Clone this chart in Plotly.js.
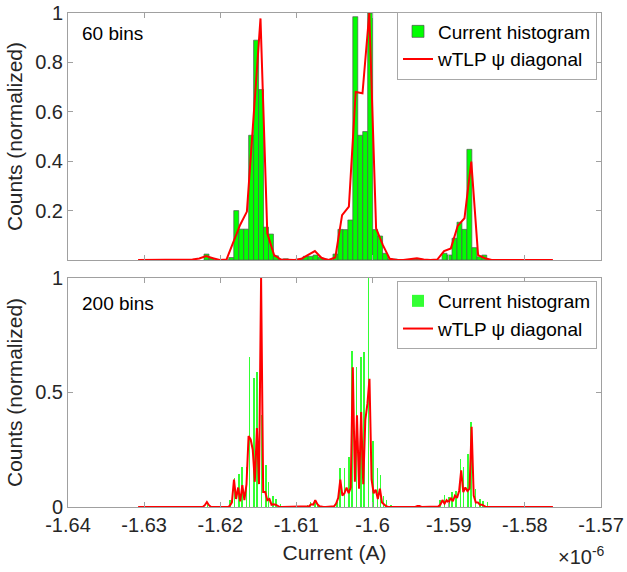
<!DOCTYPE html>
<html>
<head>
<meta charset="utf-8">
<script src="https://cdn.plot.ly/plotly-3.0.1.min.js"></script>
<style>html,body{margin:0;padding:0;background:#fff;}#chart{width:627px;height:572px;}</style>
</head>
<body>
<div id="chart"></div>
<script>
// ---- data (current in units of 1e-6 A) ----
const xTickVals = [-1.64, -1.63, -1.62, -1.61, -1.60, -1.59, -1.58, -1.57];
const xTickText = ["-1.64", "-1.63", "-1.62", "-1.61", "-1.6", "-1.59", "-1.58", "-1.57"];

// histogram bin layout shared by both panels
const histStart = -1.622138;     // left edge of first bin
const histSpan = 0.039085;       // total width covered by the bins

// 60-bin histogram (normalized counts)
const counts60 = [
  0.024, 0.008, 0, 0, 0, 0.01, 0.20, 0.125, 0.125, 0.505,
  0.89, 0.69, 0.133, 0.105, 0.017, 0.003, 0.005, 0, 0, 0.003,
  0.015, 0.015, 0.02, 0.01, 0.003, 0, 0.024, 0.124, 0.123, 0.162,
  0.985, 0.505, 0.52, 1.0, 0.123, 0.097, 0.027, 0.005, 0.004, 0,
  0, 0, 0.003, 0.003, 0, 0, 0, 0, 0.027, 0.02,
  0.088, 0.153, 0.124, 0.448, 0.05, 0.013, 0.02, 0, 0, 0
];

// wTLP psi diagonal, top panel grid
const wtlpTopStart = -1.630793;
const wtlpTopStep = 0.000893;
const wtlpTop = [
  0, 0, 0, 0, 0, 0, 0, 0, 0.002, 0.006,
  0.016, 0.007, 0, 0.002, 0.07, 0.142, 0.196, 0.6, 0.978, 0.108,
  0.02, 0.002, 0, 0, 0.005, 0.02, 0.036, 0.008, 0, 0.01,
  0.182, 0.216, 0.68, 0.675, 1.0, 0.128, 0.06, 0.005, 0, 0,
  0.002, 0.007, 0.002, 0, 0.002, 0.036, 0.047, 0.138, 0.169, 0.398,
  0.02, 0.007, 0, 0, 0, 0, 0, 0, 0, 0,
  0, 0
];

// 200-bin histogram: non-empty bins (bin index, normalized count)
const bins200Idx = [2, 5, 15, 17, 20, 23, 25, 28, 30, 33, 35, 38, 41, 43, 46, 48, 51, 54,
  69, 71, 74, 76,
  89, 91, 94, 97, 99, 102, 105, 107, 110, 113, 116, 118, 120, 122, 125,
  144,
  158, 161, 164, 166, 169, 172, 174, 177, 179, 182, 185, 187, 190];
const bins200Val = [0.022, 0.006, 0.006, 0.03, 0.126, 0.144, 0.176, 0.176, 0.656, 0.562, 0.59, 0.4, 0.183, 0.11, 0.05, 0.035, 0.012, 0.006,
  0.008, 0.02, 0.03, 0.01,
  0.02, 0.17, 0.17, 0.22, 0.68, 0.61, 0.655, 0.678, 1.0, 0.29, 0.17, 0.14, 0.05, 0.03, 0.01,
  0.005,
  0.03, 0.052, 0.045, 0.067, 0.071, 0.208, 0.173, 0.23, 0.373, 0.077, 0.034, 0.025, 0.02];

// wTLP psi diagonal, bottom panel grid (200 points)
const wtlpBotStart = -1.630793;
const wtlpBotStep = 0.00027376;
const wtlpBot = [
  0,0,0,0,0,0,0,0,0,0, 0,0,0,0,0,0,0,0,0,0,
  0,0,0,0,0,0,0,0,0,0, 0,0,0.008,0.022,0.008,0,0,0,0,0,
  0,0,0,0,0.005,0.02,0.12,0.035,0.085,0.025, 0.095,0.03,0.1,0.31,0.295,0.25,0.11,0.345,0.1,1.0,
  0.065,0.065,0.03,0.035,0.01,0.012,0.01,0.003,0,0, 0,0,0,0,0,0,0,0,0,0,
  0,0,0.003,0.012,0.01,0.03,0.012,0.003,0,0, 0,0,0,0,0.003,0.015,0.04,0.12,0.05,0.06,
  0.085,0.06,0.085,0.61,0.11,0.4,0.08,0.415,0.1,0.38, 0.45,0.56,0.12,0.06,0.075,0.035,0.08,0.02,0.01,0.003,
  0,0,0,0,0,0,0,0,0,0, 0,0,0,0,0.004,0.004,0,0,0,0,
  0,0,0,0,0.002,0.01,0.03,0.015,0.03,0.02, 0.04,0.025,0.05,0.04,0.07,0.16,0.065,0.085,0.07,0.08,
  0.35,0.05,0.02,0.02,0.01,0.01,0.005,0,0,0, 0,0,0,0,0,0,0,0,0,0,
  0,0,0,0,0,0,0,0,0,0, 0,0,0,0,0,0,0,0,0,0
];

const legendNames = ["Current histogram", "wTLP \u03c8 diagonal"];

// ---- build traces ----
const w60 = histSpan / counts60.length;
const x60 = counts60.map((_, i) => histStart + (i + 0.5) * w60);
const w200 = histSpan / 200;
const x200 = bins200Idx.map(k => histStart + (k + 0.5) * w200);
const xTop = wtlpTop.map((_, i) => wtlpTopStart + i * wtlpTopStep);
const xBot = wtlpBot.map((_, i) => wtlpBotStart + i * wtlpBotStep);

const GREEN = "#00ff00";
const RED = "#ff0000";

const traces = [
  {type: "bar", x: x60, y: counts60, width: w60, xaxis: "x", yaxis: "y",
   marker: {color: GREEN, line: {color: "#555555", width: 0.7}},
   name: legendNames[0], legend: "legend"},
  {type: "scatter", mode: "lines", x: xTop, y: wtlpTop, xaxis: "x", yaxis: "y",
   line: {color: RED, width: 2}, name: legendNames[1], legend: "legend"},
  {type: "bar", x: x200, y: bins200Val, width: w200, xaxis: "x2", yaxis: "y2",
   marker: {color: "#33ff33", line: {width: 0}},
   name: legendNames[0], legend: "legend2"},
  {type: "scatter", mode: "lines", x: xBot, y: wtlpBot, xaxis: "x2", yaxis: "y2",
   line: {color: RED, width: 2}, name: legendNames[1], legend: "legend2"}
];

const FONT = "Liberation Sans, Arial, Helvetica, sans-serif";
const TXT = "#262626";
const axisCommon = {
  showline: true, linecolor: "#a0a0a0", linewidth: 1, mirror: "ticks",
  ticks: "inside", ticklen: 5, tickcolor: "#a0a0a0", tickwidth: 1,
  showgrid: false, zeroline: false, fixedrange: true,
  tickfont: {family: FONT, size: 20, color: TXT}
};
const legendCommon = {
  xanchor: "right", yanchor: "top", bgcolor: "#ffffff",
  bordercolor: "#a8a8a8", borderwidth: 1,
  font: {family: FONT, size: 19, color: "#000"},
  tracegroupgap: 0, itemwidth: 30
};

const layout = {
  width: 627, height: 572,
  margin: {l: 68, r: 26, t: 13, b: 65},
  paper_bgcolor: "#ffffff", plot_bgcolor: "#ffffff",
  font: {family: FONT, color: TXT},
  showlegend: true, bargap: 0, barmode: "overlay",
  xaxis: Object.assign({}, axisCommon, {
    domain: [0, 1], anchor: "y", range: [-1.64, -1.57],
    tickvals: xTickVals, ticktext: xTickText, showticklabels: false
  }),
  yaxis: Object.assign({}, axisCommon, {
    domain: [0.5, 1], anchor: "x", range: [0, 1],
    tickvals: [0.2, 0.4, 0.6, 0.8, 1], ticktext: ["0.2", "0.4", "0.6", "0.8", "1"],
    title: {text: "Counts (normalized)", font: {family: FONT, size: 21, color: TXT}, standoff: 6}
  }),
  xaxis2: Object.assign({}, axisCommon, {
    domain: [0, 1], anchor: "y2", range: [-1.64, -1.57],
    tickvals: xTickVals, ticktext: xTickText,
    title: {text: "Current (A)", font: {family: FONT, size: 21, color: TXT}, standoff: 10}
  }),
  yaxis2: Object.assign({}, axisCommon, {
    domain: [0, 0.4636], anchor: "x2", range: [0, 1],
    tickvals: [0, 0.5, 1], ticktext: ["0", "0.5", "1"],
    title: {text: "Counts (normalized)", font: {family: FONT, size: 21, color: TXT}, standoff: 6}
  }),
  legend: Object.assign({}, legendCommon, {x: 0.9925, y: 1.003}),
  legend2: Object.assign({}, legendCommon, {x: 0.9925, y: 0.4575}),
  annotations: [
    {text: "60 bins", xref: "paper", yref: "paper", x: 0.0225, y: 0.9575,
     xanchor: "left", yanchor: "middle", showarrow: false,
     font: {family: FONT, size: 19, color: "#000"}},
    {text: "200 bins", xref: "paper", yref: "paper", x: 0.0225, y: 0.411,
     xanchor: "left", yanchor: "middle", showarrow: false,
     font: {family: FONT, size: 19, color: "#000"}},
    {text: "\u00d710<sup>-6</sup>", xref: "paper", yref: "paper", x: 1.012, y: -0.098,
     xanchor: "right", yanchor: "middle", showarrow: false,
     font: {family: FONT, size: 20, color: TXT}}
  ]
};

Plotly.newPlot("chart", traces, layout, {staticPlot: true, displayModeBar: false});
</script>
</body>
</html>
